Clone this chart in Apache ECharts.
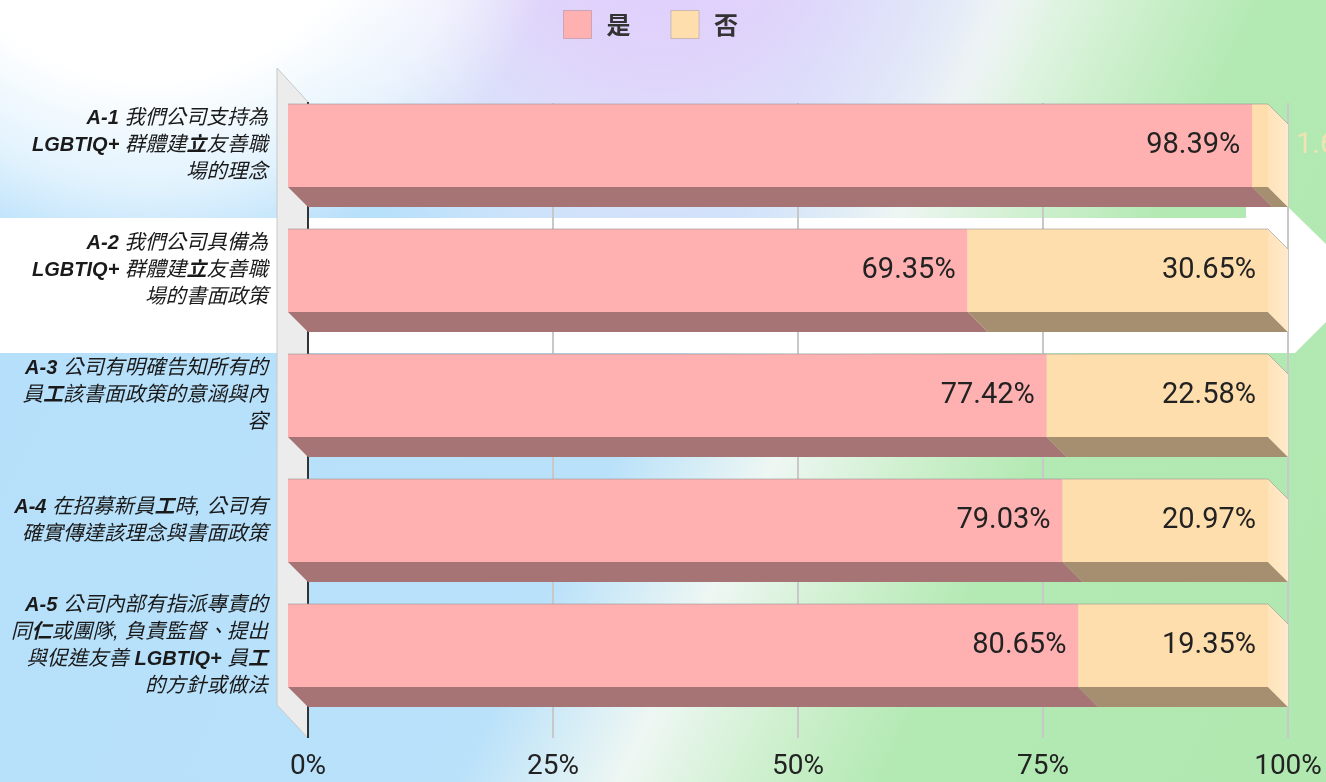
<!DOCTYPE html>
<html><head><meta charset="utf-8">
<script src="https://cdn.jsdelivr.net/npm/echarts@6/dist/echarts.min.js"></script>
<style>html,body{margin:0;padding:0;}#c{width:1326px;height:782px;}</style>
</head><body><div id="c"></div>
<script>
const categories = [
  'A-1 我們公司支持為\nLGBTIQ+ 群體建立友善職\n場的理念',
  'A-2 我們公司具備為\nLGBTIQ+ 群體建立友善職\n場的書面政策',
  'A-3 公司有明確告知所有的\n員工該書面政策的意涵與內\n容',
  'A-4 在招募新員工時, 公司有\n確實傳達該理念與書面政策',
  'A-5 公司內部有指派專責的\n同仁或團隊, 負責監督、提出\n與促進友善 LGBTIQ+ 員工\n的方針或做法'
];
const seriesNames = ['是', '否'];
const yesValues = [98.39, 69.35, 77.42, 79.03, 80.65];
const noValues = [1.61, 30.65, 22.58, 20.97, 19.35];
const xTicks = [0, 25, 50, 75, 100];

const COLORS = {
  yes: { front: '#FFB0B0', bottom: '#A67474' },
  no: { front: '#FFDEAD', bottom: '#A68F70' }
};
const DEPTH = 20;
const LABEL_FONT = '29px Roboto, "Noto Sans", sans-serif';

function makeRender(col, isLast) {
  return function (params, api) {
    const cat = api.value(0), s = api.value(1), e = api.value(2), v = api.value(3);
    const p0 = api.coord([s, cat]);
    const p1 = api.coord([e, cat]);
    const band = api.size([0, 1])[1];
    const h = band * 0.664;
    const xb0 = p0[0], xb1 = p1[0], yc = p0[1];
    const bt = yc - h / 2, bb = yc + h / 2;
    const xf0 = xb0 - DEPTH, xf1 = xb1 - DEPTH, ft = bt - DEPTH, fb = bb - DEPTH;
    const children = [];
    children.push({ type: 'polygon', shape: { points: [[xf0, fb], [xf1, fb], [xb1, bb], [xb0, bb]] }, style: { fill: col.bottom } });
    children.push({ type: 'rect', shape: { x: xf0, y: ft, width: xf1 - xf0, height: h }, style: { fill: col.front } });
    if (isLast) {
      children.push({ type: 'polygon', shape: { points: [[xf1, ft], [xb1, bt], [xb1, bb], [xf1, fb]] },
        style: { fill: { type: 'linear', x: 0, y: 0, x2: 1, y2: 0, colorStops: [{ offset: 0, color: '#FFE3BA' }, { offset: 1, color: '#FFEACB' }] } } });
      children.push({ type: 'polyline', shape: { points: [[xf0, ft], [xf1, ft], [xb1, bt]] }, style: { stroke: 'rgba(150,150,150,0.6)', lineWidth: 1, fill: null } });
    } else {
      children.push({ type: 'polyline', shape: { points: [[xf0, ft], [xf1, ft]] }, style: { stroke: 'rgba(150,150,150,0.6)', lineWidth: 1, fill: null } });
    }
    const txt = v.toFixed(2) + '%';
    const fy = (ft + fb) / 2;
    if (xf1 - xf0 > 110) {
      children.push({ type: 'text', x: xf1 - 12, y: fy, style: { text: txt, font: LABEL_FONT, fill: '#222', align: 'right', verticalAlign: 'middle' } });
    } else {
      children.push({ type: 'text', x: xb1 + 8, y: fy, style: { text: txt, font: LABEL_FONT, fill: 'rgba(255,226,178,0.8)', align: 'left', verticalAlign: 'middle' } });
    }
    return { type: 'group', children: children };
  };
}

function renderWall(params, api) {
  const cs = params.coordSys;
  const x = cs.x, y = cs.y, H = cs.height;
  return { type: 'group', children: [
    { type: 'polygon', shape: { points: [[x - 31, y - 35], [x, y - 1], [x, y + H + 10], [x - 31, y + H - 23]] },
      style: { fill: '#ECECEC', stroke: '#C8C8C8', lineWidth: 1 } },
    { type: 'line', shape: { x1: x, y1: y - 1, x2: x, y2: y + H + 10 }, style: { stroke: '#333', lineWidth: 2 } }
  ] };
}

const yesData = yesValues.map((v, i) => [i, 0, v, v]);
const noData = noValues.map((v, i) => [i, yesValues[i], yesValues[i] + v, v]);

const boldRe = /(A-\d|LGBTIQ\+|[立工仁])/;
const boldFull = new RegExp('^' + boldRe.source + '$');
function fmtLabel(val) {
  return val.split('\n').map(line => line.split(boldRe).filter(t => t.length).map(t =>
    boldFull.test(t) ? '{b|' + t + '}' : '{n|' + t + '}'
  ).join('')).join('\n');
}

const chart = echarts.init(document.getElementById('c'));
chart.setOption({
  animation: false,
  graphic: { elements: [
    { type: 'rect', z: -100, silent: true, shape: { x: 0, y: 0, width: 1326, height: 782 },
      style: { fill: { type: 'linear', global: true, x: 0, y: 0, x2: 1380, y2: 671, colorStops: [
        { offset: 0, color: '#b5dffb' }, { offset: 0.49, color: '#b9e1fa' }, { offset: 0.586, color: '#eef7f3' },
        { offset: 0.66, color: '#d0f0d0' }, { offset: 0.74, color: '#b3e9b3' }, { offset: 1, color: '#b0e8b0' } ] } } },
    { type: 'rect', z: -99, silent: true, shape: { x: 0, y: 0, width: 1326, height: 782 },
      style: { fill: { type: 'radial', global: true, x: 660, y: -80, r: 400, colorStops: [
        { offset: 0, color: 'rgba(222,206,252,1)' }, { offset: 0.35, color: 'rgba(224,211,251,1)' }, { offset: 0.65, color: 'rgba(232,224,250,0.7)' }, { offset: 1, color: 'rgba(240,236,250,0)' } ] } } },
    { type: 'rect', z: -98, silent: true, shape: { x: 0, y: 0, width: 1326, height: 782 },
      style: { fill: { type: 'radial', global: true, x: 150, y: -150, r: 420, colorStops: [
        { offset: 0, color: 'rgba(255,255,255,1)' }, { offset: 0.55, color: 'rgba(255,255,255,1)' }, { offset: 0.8, color: 'rgba(255,255,255,0.6)' }, { offset: 1, color: 'rgba(255,255,255,0)' } ] } } },
    { type: 'polygon', z: -97, silent: true, shape: { points: [[0, 218], [1246, 218], [1246, 207], [1288, 207], [1326, 244], [1326, 322], [1295, 353], [0, 353]] },
      style: { fill: '#ffffff' } }
  ] },
  legend: {
    data: seriesNames, top: 5, left: 558, itemWidth: 28, itemHeight: 28, itemGap: 40, icon: 'rect',
    itemStyle: { borderColor: 'rgba(0,0,0,0.15)', borderWidth: 1 },
    textStyle: { fontSize: 24, fontWeight: 'bold', color: '#333', padding: [0, 0, 0, 10], fontFamily: '"Noto Sans CJK TC", sans-serif' }
  },
  grid: { left: 308, right: 38, top: 103, bottom: 54, containLabel: false },
  xAxis: {
    type: 'value', min: xTicks[0], max: xTicks[xTicks.length - 1], interval: xTicks[1] - xTicks[0],
    axisLine: { show: false },
    axisTick: { show: true, length: 10, lineStyle: { color: '#c8c8c8', width: 2 } },
    splitLine: { show: true, lineStyle: { color: '#c8c8c8', width: 2 } },
    axisLabel: { formatter: v => v + '%', fontSize: 28, color: '#222', margin: 25, fontFamily: 'Roboto, sans-serif' }
  },
  yAxis: {
    type: 'category', data: categories, inverse: true,
    axisLine: { show: false }, axisTick: { show: false },
    axisLabel: {
      margin: 40, padding: [0, 0, 40, 0], formatter: fmtLabel,
      rich: {
        b: { fontSize: 20, fontWeight: 'bold', fontStyle: 'italic', color: '#1a1a1a', lineHeight: 27, fontFamily: '"Liberation Sans", "Noto Sans CJK TC", sans-serif' },
        n: { fontSize: 20.5, fontStyle: 'italic', color: '#1a1a1a', lineHeight: 27, fontFamily: '"Liberation Sans", "Noto Sans CJK TC", sans-serif' }
      }
    }
  },
  series: [
    { type: 'custom', name: '_wall', data: [[0, 0]], renderItem: renderWall, clip: false, z: 1, silent: true, encode: { x: 0, y: 1 } },
    { type: 'custom', name: '是', data: yesData, renderItem: makeRender(COLORS.yes, false), clip: false, z: 3,
      itemStyle: { color: COLORS.yes.front }, encode: { x: [1, 2], y: 0 } },
    { type: 'custom', name: '否', data: noData, renderItem: makeRender(COLORS.no, true), clip: false, z: 3,
      itemStyle: { color: COLORS.no.front }, encode: { x: [1, 2], y: 0 } }
  ]
});
</script></body></html>
